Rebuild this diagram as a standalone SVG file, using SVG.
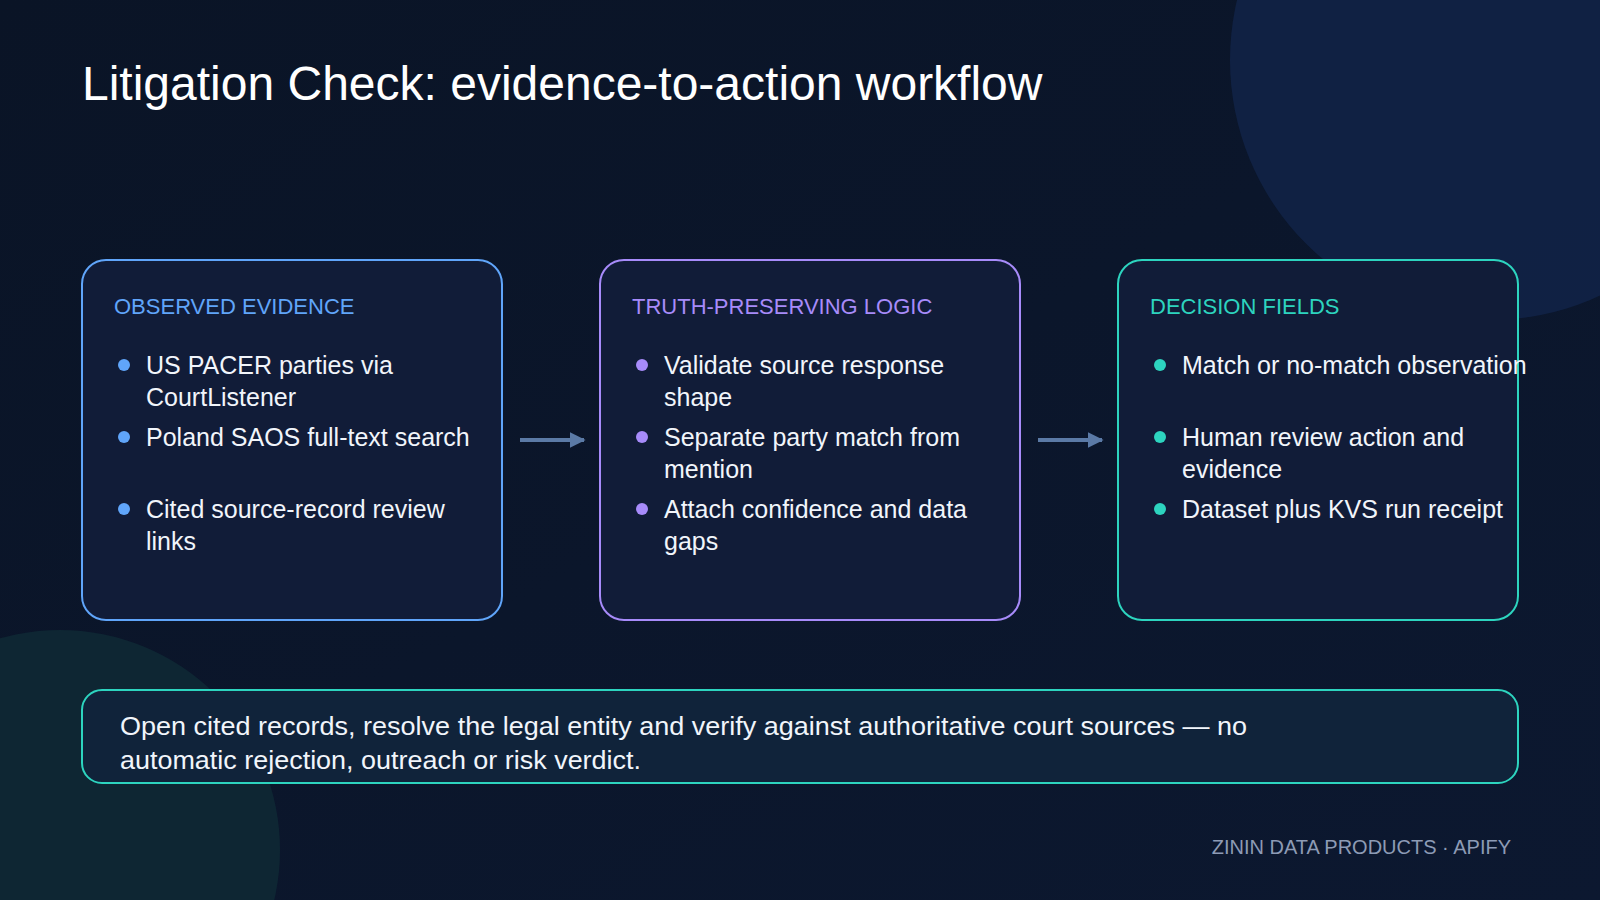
<svg xmlns="http://www.w3.org/2000/svg" width="1600" height="900" viewBox="0 0 1600 900">
<defs>
<style>
text{font-family:"Liberation Sans",Arial,sans-serif}
.t{fill:#f1f5fb;font-size:25px}
.h{font-size:22px}
.box{fill:#111c38;stroke-width:2}
</style>
<marker id="ah" viewBox="0 0 10 10" refX="9" refY="5" markerWidth="4" markerHeight="4" orient="auto"><path d="M0,0L10,5L0,10z" fill="#5b7aa6"/></marker>
<linearGradient id="bg" x1="0" y1="0" x2="1" y2="1"><stop offset="0" stop-color="#0a1426"/><stop offset="1" stop-color="#0c1830"/></linearGradient>
</defs>
<rect width="1600" height="900" fill="url(#bg)"/>
<circle cx="1490" cy="60" r="260" fill="#12244a" opacity="0.8"/>
<circle cx="60" cy="850" r="220" fill="#0f2a36" opacity="0.8"/>
<text x="82" y="100" fill="#ffffff" font-size="48">Litigation Check: evidence-to-action workflow</text>
<g id="connectors">
<line x1="520" y1="440" x2="584" y2="440" stroke="#5b7aa6" stroke-width="4" marker-end="url(#ah)"/>
<line x1="1038" y1="440" x2="1102" y2="440" stroke="#5b7aa6" stroke-width="4" marker-end="url(#ah)"/>
</g>
<g id="observed">
<rect class="box" x="82" y="260" width="420" height="360" rx="24" stroke="#60a5fa"/>
<text x="114" y="314" class="h" fill="#60a5fa">OBSERVED EVIDENCE</text>
<g fill="#60a5fa"><circle cx="124" cy="365" r="6"/><circle cx="124" cy="437" r="6"/><circle cx="124" cy="509" r="6"/></g>
<text class="t" x="146" y="374">US PACER parties via</text>
<text class="t" x="146" y="406">CourtListener</text>
<text class="t" x="146" y="446">Poland SAOS full-text search</text>
<text class="t" x="146" y="518">Cited source-record review</text>
<text class="t" x="146" y="550">links</text>
</g>
<g id="logic">
<rect class="box" x="600" y="260" width="420" height="360" rx="24" stroke="#a78bfa"/>
<text x="632" y="314" class="h" fill="#a78bfa">TRUTH-PRESERVING LOGIC</text>
<g fill="#a78bfa"><circle cx="642" cy="365" r="6"/><circle cx="642" cy="437" r="6"/><circle cx="642" cy="509" r="6"/></g>
<text class="t" x="664" y="374">Validate source response</text>
<text class="t" x="664" y="406">shape</text>
<text class="t" x="664" y="446">Separate party match from</text>
<text class="t" x="664" y="478">mention</text>
<text class="t" x="664" y="518">Attach confidence and data</text>
<text class="t" x="664" y="550">gaps</text>
</g>
<g id="decision">
<rect class="box" x="1118" y="260" width="400" height="360" rx="24" stroke="#2dd4bf"/>
<text x="1150" y="314" class="h" fill="#2dd4bf">DECISION FIELDS</text>
<g fill="#2dd4bf"><circle cx="1160" cy="365" r="6"/><circle cx="1160" cy="437" r="6"/><circle cx="1160" cy="509" r="6"/></g>
<text class="t" x="1182" y="374">Match or no-match observation</text>
<text class="t" x="1182" y="446">Human review action and</text>
<text class="t" x="1182" y="478">evidence</text>
<text class="t" x="1182" y="518">Dataset plus KVS run receipt</text>
</g>
<g id="note">
<rect x="82" y="690" width="1436" height="93" rx="20" fill="#10233a" stroke="#2dd4bf" stroke-width="2"/>
<text class="t" x="120" y="735" font-size="28" textLength="1127" lengthAdjust="spacingAndGlyphs">Open cited records, resolve the legal entity and verify against authoritative court sources — no</text>
<text class="t" x="120" y="769" font-size="28" textLength="521" lengthAdjust="spacingAndGlyphs">automatic rejection, outreach or risk verdict.</text>
</g>
<text x="1511" y="854" text-anchor="end" font-size="20" fill="#8d9bb5">ZININ DATA PRODUCTS · APIFY</text>
</svg>
